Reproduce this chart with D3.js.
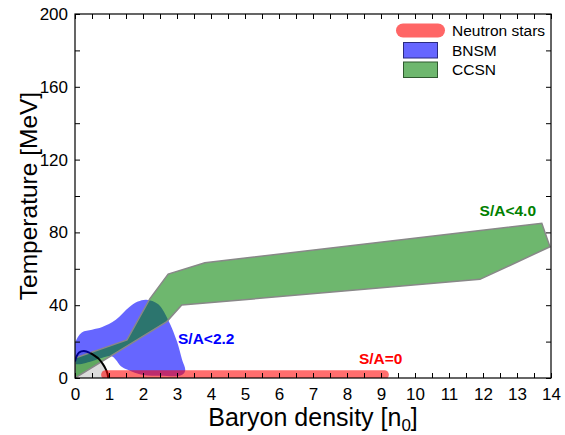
<!DOCTYPE html>
<html>
<head>
<meta charset="utf-8">
<script src="https://cdn.jsdelivr.net/npm/d3@7"></script>
<style>
  body { margin: 0; background: #fff; }
  text { font-family: Arial, "Liberation Sans", sans-serif; }
</style>
</head>
<body>
<svg id="chart" width="565" height="435"></svg>
<script>
// CCSN band (density in n0, temperature in MeV), walked around the outline
const ccsnN = [0, 1.53, 2.2, 2.74, 3.82, 13.73, 13.97, 11.91, 3.14, 2.70, 0];
const ccsnT = [11, 20.9, 43.5, 57.1, 63.3, 85, 72.1, 54.2, 40.1, 31, 0];

// BNSM blob outline
const bnsmN = [0, 0.2, 0.5, 0.8, 1.2, 1.6, 1.85, 2.1, 2.45, 2.75, 3.0, 3.15, 3.24, 3.12, 2.5, 2.0, 1.55, 1.35, 1.2, 1.08, 0];
const bnsmT = [19, 25, 26.5, 28, 32, 39, 42, 43, 40.5, 31.5, 20, 10, 4, 1.5, 1.3, 1.6, 4.5, 6.5, 10, 12, 8];

// liquid-gas coexistence line
const coexN = [0, 0.05, 0.12, 0.26, 0.45, 0.55, 0.7, 0.82, 0.9, 0.95, 0.98];
const coexT = [9, 12, 14, 14.8, 13.7, 12.6, 10.5, 7.6, 5, 2.8, 0];
const coexSplit = 4; // blue part up to this index, black after

// neutron star range (T ~ 0)
const nsN = [0.9, 9.1];
const nsT = [1.8, 1.8];

const xTicks = d3.range(0, 14.001, 0.5);
const yTicks = d3.range(0, 200.001, 20);
const xLabels = d3.range(0, 15, 1);
const yLabels = [0, 40, 80, 120, 160, 200];

const legendKeys = ["Neutron stars", "BNSM", "CCSN"];

const svg = d3.select("#chart"),
    width = +svg.attr("width"),
    height = +svg.attr("height");

const margin = {top: 14, right: 14, bottom: 57, left: 75};

const x = d3.scaleLinear().domain([0, 14]).range([margin.left, width - margin.right]);
const y = d3.scaleLinear().domain([0, 200]).range([height - margin.bottom, margin.top]);

svg.append("defs").append("clipPath")
    .attr("id", "clip")
    .append("rect")
    .attr("x", x(0)).attr("y", y(200))
    .attr("width", x(14) - x(0)).attr("height", y(0) - y(200));

const zip = (a, b) => a.map((d, i) => [d, b[i]]);
const plot = svg.append("g").attr("clip-path", "url(#clip)");

const coex = zip(coexN, coexT);

// gray region under the coexistence line
plot.append("path")
    .datum(coex)
    .attr("d", d3.area().x(d => x(d[0])).y0(y(0)).y1(d => y(d[1])).curve(d3.curveCatmullRom))
    .attr("fill", "#dcdcdc");

plot.append("path")
    .datum(zip(bnsmN, bnsmT))
    .attr("d", d3.line().x(d => x(d[0])).y(d => y(d[1])).curve(d3.curveCatmullRomClosed.alpha(0.5)))
    .attr("fill", "rgba(0,0,255,0.6)");

plot.append("path")
    .datum(zip(ccsnN, ccsnT))
    .attr("d", d3.line().x(d => x(d[0])).y(d => y(d[1])).curve(d3.curveLinearClosed))
    .attr("fill", "rgba(0,128,0,0.57)")
    .attr("stroke", "#888")
    .attr("stroke-width", 1.5);

const coexLine = d3.line().x(d => x(d[0])).y(d => y(d[1])).curve(d3.curveCatmullRom);
plot.append("path")
    .datum(coex.slice(0, coexSplit + 1))
    .attr("d", coexLine)
    .attr("fill", "none").attr("stroke", "#00008b").attr("stroke-width", 2);
plot.append("path")
    .datum(coex.slice(coexSplit))
    .attr("d", coexLine)
    .attr("fill", "none").attr("stroke", "#000").attr("stroke-width", 2);

plot.append("path")
    .datum(zip(nsN, nsT))
    .attr("d", d3.line().x(d => x(d[0])).y(d => y(d[1])))
    .attr("stroke", "rgba(255,0,0,0.57)")
    .attr("stroke-width", 9)
    .attr("stroke-linecap", "round");

// axes, ticks pointing inward on all sides
const fmtX = d => xLabels.includes(d) ? d : "";
const fmtY = d => yLabels.includes(d) ? d : "";

const gx = svg.append("g")
    .attr("transform", `translate(0,${y(0)})`)
    .call(d3.axisBottom(x).tickValues(xTicks).tickSizeInner(-5).tickSizeOuter(0).tickPadding(10).tickFormat(fmtX));
const gy = svg.append("g")
    .attr("transform", `translate(${x(0)},0)`)
    .call(d3.axisLeft(y).tickValues(yTicks).tickSizeInner(-5).tickSizeOuter(0).tickPadding(7).tickFormat(fmtY));
const gt = svg.append("g")
    .attr("transform", `translate(0,${y(200)})`)
    .call(d3.axisTop(x).tickValues(xTicks).tickSizeInner(-5).tickSizeOuter(0).tickFormat(""));
const gr = svg.append("g")
    .attr("transform", `translate(${x(14)},0)`)
    .call(d3.axisRight(y).tickValues(yTicks).tickSizeInner(-5).tickSizeOuter(0).tickFormat(""));

[gx, gy, gt, gr].forEach(g => {
    g.select(".domain").remove();
    g.selectAll("line").attr("stroke", "#000");
    g.selectAll("text").attr("font-size", 17).attr("fill", "#000").attr("font-family", "Arial, 'Liberation Sans', sans-serif");
});

svg.append("rect")
    .attr("x", x(0)).attr("y", y(200))
    .attr("width", x(14) - x(0)).attr("height", y(0) - y(200))
    .attr("fill", "none").attr("stroke", "#000").attr("stroke-width", 1.2);

// axis titles
const xt = svg.append("text")
    .attr("x", (x(0) + x(14)) / 2)
    .attr("y", 426)
    .attr("text-anchor", "middle")
    .attr("font-size", 25);
xt.append("tspan").text("Baryon density [n");
xt.append("tspan").attr("font-size", 17).attr("dy", 5).text("0");
xt.append("tspan").attr("dy", -5).text("]");

svg.append("text")
    .attr("transform", `translate(37,${(y(0) + y(200)) / 2}) rotate(-90)`)
    .attr("text-anchor", "middle")
    .attr("font-size", 24.5)
    .text("Temperature [MeV]");

// region labels
const labels = [
    {text: "S/A<2.2", n: 3.03, t: 18.7, color: "#0000ff"},
    {text: "S/A<4.0", n: 11.9, t: 89, color: "#008000"},
    {text: "S/A=0", n: 8.35, t: 7.5, color: "#ff0000"}
];
svg.selectAll(".region-label")
    .data(labels)
    .join("text")
    .attr("class", "region-label")
    .attr("x", d => x(d.n))
    .attr("y", d => y(d.t))
    .attr("font-size", 15.5)
    .attr("font-weight", "bold")
    .attr("fill", d => d.color)
    .text(d => d.text);

// legend
const legend = svg.append("g")
    .selectAll("g")
    .data(legendKeys)
    .join("g")
    .attr("transform", (d, i) => `translate(0,${30.5 + i * 19.5})`);

legend.each(function(d, i) {
    const g = d3.select(this);
    if (i === 0) {
        g.append("rect")
            .attr("x", 396).attr("y", -7).attr("width", 49).attr("height", 14)
            .attr("rx", 7)
            .attr("fill", "rgba(255,0,0,0.6)");
    } else {
        g.append("rect")
            .attr("x", 403.5).attr("y", -7.5).attr("width", 34).attr("height", 15.5)
            .attr("fill", i === 1 ? "rgba(0,0,255,0.6)" : "rgba(0,128,0,0.57)")
            .attr("stroke", i === 1 ? "#2a2a80" : "#2f5a2f")
            .attr("stroke-width", 1);
    }
    g.append("text")
        .attr("x", 452)
        .attr("y", 5.5)
        .attr("font-size", 15.5)
        .text(d);
});
</script>
</body>
</html>
